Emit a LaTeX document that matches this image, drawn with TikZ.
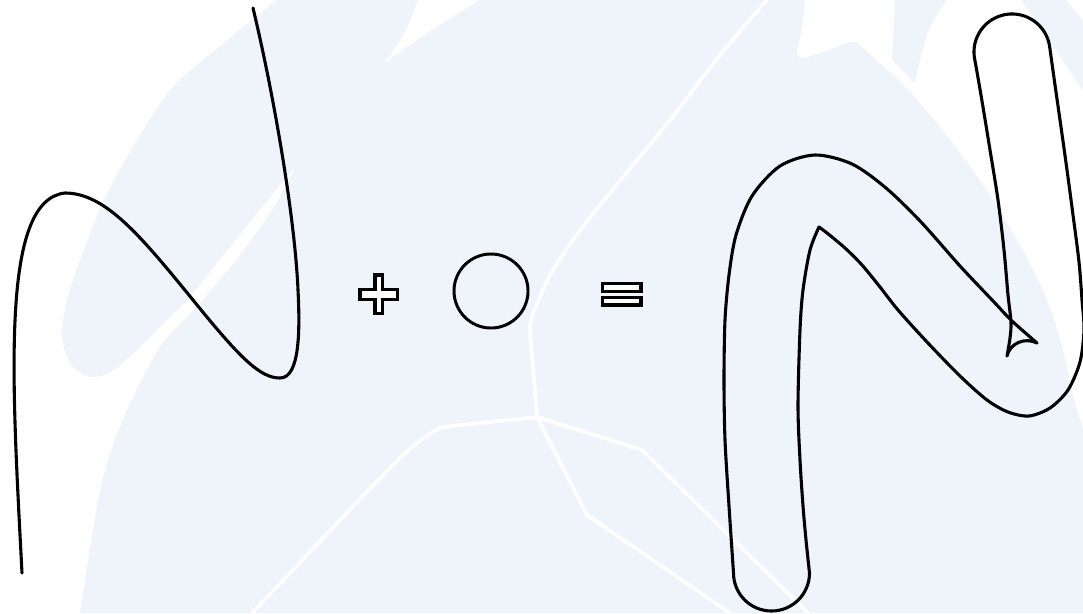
\documentclass[tikz,border=0pt]{standalone}
\usetikzlibrary{calc}
\definecolor{mapblue}{RGB}{238,244,250}
\tikzset{
  pen/.style={line width=2.2pt, line cap=round, line join=round},
  street/.style={white, line width=2.6pt, line join=round},
  glyph/.style={draw, fill=white, line width=2.4pt, line join=miter}
}
\begin{document}
\begin{tikzpicture}[x=0.025cm, y=-0.025cm]
  \useasboundingbox (0,0) rectangle (1083,613);
  \clip (0,0) rectangle (1083,613);
  % background map
  \fill[white] (0,0) rectangle (1083,613);
  \fill[mapblue] plot[smooth] coordinates {(277,0) (225,42) (173,87) (137,140) (104,200) (82,255) (67,300) (62,335) (70,363) (90,377) (112,371) (135,352) (160,327) (187,300) (225,253) (262,207) (290,173) (333,126) (375,75) (403,35) (418,0)} -- cycle;
  \fill[mapblue] plot[smooth] coordinates {(80,613) (93,530) (105,470) (127,410) (160,347) (200,303) (240,255) (275,205) (300,160) (330,118) (367,77) (420,38) (480,0)}
    -- (805,0)
    -- plot[smooth] coordinates {(805,0) (803,20) (799,42) (797,52) (802,58) (820,53) (850,42) (857,43)}
    -- plot[smooth] coordinates {(857,43) (890,72) (920,103) (958,150) (993,200) (1020,245) (1047,300) (1063,350) (1073,395) (1083,430)}
    -- (1083,613) -- cycle;
  \fill[mapblue] (895,0) -- (947,0) -- plot[smooth] coordinates {(947,0) (935,18) (927,35) (920,60) (915,83)} -- (892,60) -- cycle;
  \fill[mapblue] (1021,0) -- (1066,0) -- (1083,21) -- (1083,90) -- cycle;
  % streets
  \coordinate (hub) at (537,417);
  \draw[street] plot[smooth] coordinates {(767,0) (720,55) (670,120) (600,205) (573,240) (550,275) (540,297) (532,317) (530,332) (533,365)} -- (hub);
  \draw[street] (hub) -- (443,427) -- plot[smooth] coordinates {(443,427) (428,435) (400,458) (340,520) (290,573) (252,613)};
  \draw[street] (hub) -- (642,450) -- (808,613);
  \draw[street] (hub) -- (587,515) -- (730,613);

  % the curve
  \draw[pen] (22,573) .. controls (12,380) and (0,200) .. (65,193)
    .. controls (105,193) and (140,235) .. (193,300)
    .. controls (240,358) and (260,378) .. (280,378)
    .. controls (300,378) and (300,330) .. (298,290)
    .. controls (295,220) and (275,100) .. (253,8);

  % plus, disc, equals
  \draw[glyph] (375,275) -- (382.6,275) -- (382.6,289.5) -- (397.5,289.5) -- (397.5,299.3) -- (382.6,299.3)
    -- (382.6,313.3) -- (375,313.3) -- (375,299.3) -- (360,299.3) -- (360,289.5) -- (375,289.5) -- cycle;
  \node[draw, circle, line width=2.1pt, minimum size=1.85cm, inner sep=0pt] (disc) at (491,291) {};
  \draw[glyph] (602.8,283.4) rectangle (641,291.6);
  \draw[glyph] (602.8,297.8) rectangle (641,305);

  % the swept shape
  \draw[pen] (809.5,573) .. controls (809.5,594) and (792.5,611) .. (771.5,611)
    .. controls (750.5,611) and (733.5,594) .. (733.5,573)
    -- plot[smooth] coordinates {(733.5,573) (729,506) (725,440) (724,380) (725,320) (729,275) (736,235) (752,196) (780,166) (815,155) (852,164) (886,188) (921,222) (960,266) (994,302) (1012,321) (1037,343)}
    .. controls (1025,337) and (1010,343) .. (1007,356)
    -- plot[smooth] coordinates {(1007,356) (1010,338) (1011,322) (1008,295) (1004,250) (998,200) (990,150) (983,107) (977,72) (974.5,58.3)}
    .. controls (971,37.6) and (985,18) .. (1005.7,14.5)
    .. controls (1026.4,11) and (1046,25) .. (1049.5,45.7)
    -- plot[smooth] coordinates {(1049.5,45.7) (1055,85) (1061,127) (1067,170) (1073,215) (1079,262) (1082,300) (1084,330) (1080,362) (1068,390) (1050,408) (1029,416) (1008,412) (987,400) (960,376) (927,342) (898,310) (880,287) (862,265) (845,248) (827,233) (819,227)}
    -- plot[smooth] coordinates {(819,227) (810,250) (803,290) (800,330) (798,406) (800,460) (803,506) (806,540) (809.5,573)};
\end{tikzpicture}
\end{document}
